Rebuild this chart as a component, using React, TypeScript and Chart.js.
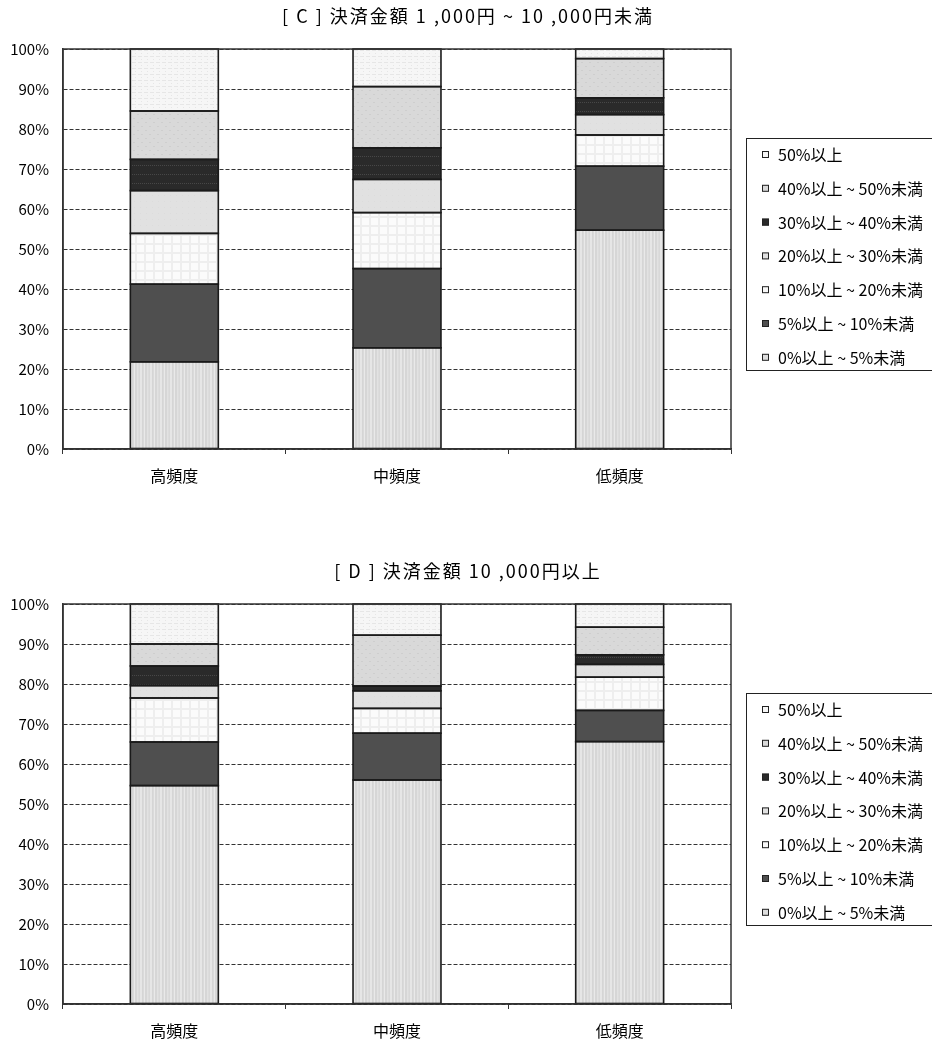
import React, { useEffect, useRef } from 'react';
import { Chart, registerables } from 'chart.js';

Chart.register(...registerables);

// ---------- data ----------
const categories = ['高頻度', '中頻度', '低頻度'];
const seriesLabels = [
  '0%以上 ~ 5%未満',
  '5%以上 ~ 10%未満',
  '10%以上 ~ 20%未満',
  '20%以上 ~ 30%未満',
  '30%以上 ~ 40%未満',
  '40%以上 ~ 50%未満',
  '50%以上',
];
const yTickValues = [0, 10, 20, 30, 40, 50, 60, 70, 80, 90, 100];

const titleC = '[ C ] 決済金額 1 ,000円 ~ 10 ,000円未満';
const c_0to5 = [21.8, 25.3, 54.7];
const c_5to10 = [19.4, 19.8, 16.0];
const c_10to20 = [12.7, 14.0, 7.8];
const c_20to30 = [10.7, 8.3, 5.1];
const c_30to40 = [7.8, 7.9, 4.2];
const c_40to50 = [12.1, 15.3, 9.8];
const c_50plus = [15.5, 9.4, 2.4];

const titleD = '[ D ] 決済金額 10 ,000円以上';
const d_0to5 = [54.6, 56.0, 65.6];
const d_5to10 = [10.9, 11.7, 7.8];
const d_10to20 = [11.0, 6.2, 8.3];
const d_20to30 = [3.1, 4.4, 3.2];
const d_30to40 = [4.9, 1.2, 2.4];
const d_40to50 = [5.5, 12.7, 6.9];
const d_50plus = [10.0, 7.8, 5.8];

// ---------- styles ----------
const FONT = '"Noto Sans CJK JP", "Noto Sans", sans-serif';
const swatchColors = ['#dedede', '#4f4f4f', '#f9f9f9', '#e1e1e1', '#2a2a2a', '#d9d9d9', '#f6f6f6'];

function makeTile(w: number, h: number, draw: (c: CanvasRenderingContext2D) => void) {
  const cv = document.createElement('canvas');
  cv.width = w;
  cv.height = h;
  const c = cv.getContext('2d')!;
  draw(c);
  return cv;
}

function makePatterns(ctx: CanvasRenderingContext2D) {
  const tiles = [
    // 0-5%: vertical stripes
    makeTile(10, 4, (c) => {
      const cols = ['#e6e6e6', '#e6e6e6', '#d5d5d5', '#dadada', '#e9e9e9', '#d6d6d6', '#d6d6d6', '#e2e2e2', '#dcdcdc', '#d8d8d8'];
      cols.forEach((col, i) => {
        c.fillStyle = col;
        c.fillRect(i, 0, 1, 4);
      });
    }),
    // 5-10%: dark solid
    makeTile(4, 4, (c) => {
      c.fillStyle = '#4f4f4f';
      c.fillRect(0, 0, 4, 4);
    }),
    // 10-20%: faint light grid
    makeTile(9, 9, (c) => {
      c.fillStyle = '#fbfbfb';
      c.fillRect(0, 0, 9, 9);
      c.fillStyle = '#eeeeee';
      c.fillRect(0, 0, 2, 9);
      c.fillRect(0, 0, 9, 2);
    }),
    // 20-30%: light gray
    makeTile(6, 6, (c) => {
      c.fillStyle = '#e1e1e1';
      c.fillRect(0, 0, 6, 6);
      c.fillStyle = '#dcdcdc';
      c.fillRect(2, 3, 1, 1);
    }),
    // 30-40%: very dark with dotted rows
    makeTile(6, 9, (c) => {
      c.fillStyle = '#2a2a2a';
      c.fillRect(0, 0, 6, 9);
      c.fillStyle = '#474747';
      c.fillRect(0, 3, 1, 1);
      c.fillRect(2, 3, 1, 1);
      c.fillRect(4, 3, 1, 1);
    }),
    // 40-50%: gray with faint dots
    makeTile(8, 8, (c) => {
      c.fillStyle = '#d9d9d9';
      c.fillRect(0, 0, 8, 8);
      c.fillStyle = '#cecece';
      c.fillRect(1, 2, 2, 1);
      c.fillRect(5, 6, 2, 1);
    }),
    // 50%+: very light dotted
    makeTile(6, 6, (c) => {
      c.fillStyle = '#f6f6f6';
      c.fillRect(0, 0, 6, 6);
      c.fillStyle = '#e6e6e6';
      c.fillRect(0, 2, 4, 1);
      c.fillRect(3, 5, 1, 1);
    }),
  ];
  return tiles.map((t) => ctx.createPattern(t, 'repeat') as CanvasPattern);
}

const decorPlugin = {
  id: 'decor',
  afterDatasetsDraw(chart: any) {
    const ctx: CanvasRenderingContext2D = chart.ctx;
    ctx.save();
    ctx.strokeStyle = '#1a1a1a';
    ctx.lineWidth = 1.6;
    ctx.setLineDash([]);
    chart.data.datasets.forEach((_d: any, i: number) => {
      const meta = chart.getDatasetMeta(i);
      meta.data.forEach((bar: any) => {
        const p = bar.getProps(['x', 'y', 'base', 'width'], true);
        const left = p.x - p.width / 2;
        const top = Math.min(p.y, p.base);
        const h = Math.abs(p.base - p.y);
        ctx.strokeRect(left, top, p.width, h);
      });
    });
    ctx.restore();
  },
  afterDraw(chart: any, _args: any, opts: any) {
    const ctx: CanvasRenderingContext2D = chart.ctx;
    const ca = chart.chartArea;
    ctx.save();
    // plot frame
    ctx.strokeStyle = '#333';
    ctx.lineWidth = 1.5;
    ctx.setLineDash([]);
    ctx.strokeRect(ca.left, ca.top, ca.right - ca.left, ca.bottom - ca.top);
    // title
    ctx.fillStyle = '#000';
    ctx.font = `18px ${FONT}`;
    (ctx as any).letterSpacing = '2px';
    ctx.textAlign = 'center';
    ctx.textBaseline = 'middle';
    ctx.fillText(opts.text, chart.width / 2 + 2, opts.titleY);
    (ctx as any).letterSpacing = '0px';
    // legend box
    ctx.strokeStyle = '#222';
    ctx.lineWidth = 1;
    ctx.strokeRect(746.5, 138.5, 200, 232);
    const ds = chart.data.datasets;
    ctx.font = `16px ${FONT}`;
    ctx.textAlign = 'left';
    for (let k = 0; k < ds.length; k++) {
      const idx = ds.length - 1 - k;
      const y = 155 + k * 33.8;
      ctx.fillStyle = swatchColors[idx];
      ctx.fillRect(762, y - 4, 7, 7);
      ctx.strokeStyle = '#222';
      ctx.strokeRect(762.5, y - 3.5, 6, 6);
      ctx.fillStyle = '#000';
      ctx.fillText(ds[idx].label, 778, y);
    }
    ctx.restore();
  },
};

function buildConfig(title: string, series: number[][], patterns: CanvasPattern[]) {
  return {
    type: 'bar' as const,
    data: {
      labels: categories,
      datasets: series.map((vals, i) => ({
        label: seriesLabels[i],
        data: vals,
        backgroundColor: patterns[i],
        borderWidth: 0,
        categoryPercentage: 1,
        barPercentage: 0.395,
      })),
    },
    options: {
      animation: false,
      responsive: false,
      maintainAspectRatio: false,
      layout: { padding: { left: 0, right: 201, top: 49, bottom: 0 } },
      plugins: {
        legend: { display: false },
        title: { display: false },
        tooltip: { enabled: false },
        decor: { text: title, titleY: 16 },
      },
      scales: {
        x: {
          stacked: true,
          offset: true,
          grid: {
            display: true,
            offset: true,
            drawOnChartArea: false,
            drawTicks: true,
            tickLength: 5,
            color: '#333',
          },
          border: { display: true, color: '#333', width: 1.5 },
          ticks: { color: '#000', font: { size: 16, family: FONT }, padding: 12 },
          afterFit: (scale: any) => {
            scale.height = 42;
          },
        },
        y: {
          stacked: true,
          min: 0,
          max: 100,
          afterBuildTicks: (scale: any) => {
            scale.ticks = yTickValues.map((v) => ({ value: v }));
          },
          grid: { color: '#333', lineWidth: 1, drawTicks: false },
          border: { display: true, color: '#333', width: 1.5, dash: [4, 2] },
          ticks: {
            color: '#000',
            font: { size: 15, family: FONT },
            padding: 14,
            callback: (v: any) => `${v}%`,
          },
          afterFit: (scale: any) => {
            scale.width = 63;
          },
        },
      },
    },
    plugins: [decorPlugin],
  };
}

function StackChart({ title, series, top }: { title: string; series: number[][]; top: number }) {
  const ref = useRef<HTMLCanvasElement>(null);
  useEffect(() => {
    const canvas = ref.current!;
    const ctx = canvas.getContext('2d')!;
    const patterns = makePatterns(ctx);
    const chart = new Chart(canvas, buildConfig(title, series, patterns) as any);
    return () => chart.destroy();
  }, [title, series]);
  return (
    <canvas
      ref={ref}
      width={932}
      height={491}
      style={{ position: 'absolute', left: 0, top, width: 932, height: 491 }}
    />
  );
}

const seriesC = [c_0to5, c_5to10, c_10to20, c_20to30, c_30to40, c_40to50, c_50plus];
const seriesD = [d_0to5, d_5to10, d_10to20, d_20to30, d_30to40, d_40to50, d_50plus];

export default function App() {
  return (
    <div
      style={{
        position: 'absolute',
        left: 0,
        top: 0,
        width: 932,
        height: 1046,
        background: '#fff',
        overflow: 'hidden',
      }}
    >
      <StackChart title={titleC} series={seriesC} top={0} />
      <StackChart title={titleD} series={seriesD} top={555} />
    </div>
  );
}
